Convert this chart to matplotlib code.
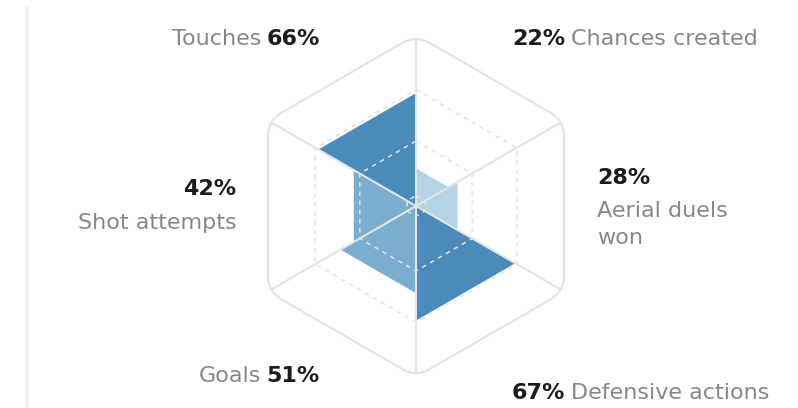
import numpy as np
import matplotlib
matplotlib.use("Agg")
from matplotlib import pyplot as plt
from matplotlib.path import Path
from matplotlib.patches import PathPatch, Polygon

# categories in clockwise order starting from the top-right sector
categories = ["Chances created", "Aerial duels\nwon", "Defensive actions", "Goals", "Shot attempts", "Touches"]
values = [22, 28, 67, 51, 42, 66]
grid_levels = [0.06, 0.38, 0.68]

DARK = "#4a8bba"
MID = "#7badcf"
LIGHT = "#b5d3e7"
GREY_TEXT = "#878787"
BLACK_TEXT = "#1c1c1c"
LINE = "#e3e3e3"

W, H = 798, 408
CX, CY, R = 416, 206, 171
CORNER = 0.09

plt.rcParams['font.family'] = ['DejaVu Sans']


def px(x, y):
    # pixel position -> data units (centre of the hexagon is the origin)
    return (x - CX) / R, (CY - y) / R


def vertex_angles():
    # pointy-top hexagon, going clockwise from the top
    return np.deg2rad(90 - 60 * np.arange(6))


def colour_for(v):
    if v >= 60:
        return DARK
    if v >= 40:
        return MID
    return LIGHT


def rounded_hexagon(radius, corner):
    ang = vertex_angles()
    pts = np.c_[np.cos(ang), np.sin(ang)] * radius
    verts, codes = [], []
    n = len(pts)
    for i in range(n):
        p = pts[i]
        prev = pts[i - 1]
        nxt = pts[(i + 1) % n]
        a = p + (prev - p) / np.linalg.norm(prev - p) * corner
        b = p + (nxt - p) / np.linalg.norm(nxt - p) * corner
        verts.append(a)
        codes.append(Path.MOVETO if i == 0 else Path.LINETO)
        verts += [p, b]
        codes += [Path.CURVE3, Path.CURVE3]
    verts.append(verts[0])
    codes.append(Path.LINETO)
    return Path(verts, codes)


def main():
    fig = plt.figure(figsize=(W / 100, H / 100), dpi=100)
    ax = fig.add_axes([0, 0, 1, 1])
    ax.set_xlim(-CX / R, (W - CX) / R)
    ax.set_ylim(-(H - CY) / R, CY / R)
    ax.axis("off")

    ang = vertex_angles()

    # sectors: each category sits between two neighbouring axes
    for i, v in enumerate(values):
        r = v / 100
        a1, a2 = ang[i], ang[(i + 1) % 6]
        tri = [(0, 0), (r * np.cos(a1), r * np.sin(a1)), (r * np.cos(a2), r * np.sin(a2))]
        ax.add_patch(Polygon(tri, closed=True, facecolor=colour_for(v), edgecolor="none", zorder=1))

    # dashed inner rings
    for lv in grid_levels:
        ring = np.c_[np.cos(ang), np.sin(ang)] * lv
        ring = np.vstack([ring, ring[:1]])
        ax.plot(ring[:, 0], ring[:, 1], color=LINE, lw=1.1, ls=(0, (3, 3)), zorder=2)

    # spokes end where the rounded corner is
    spoke = 1 - CORNER / 4
    for a in ang:
        ax.plot([0, spoke * np.cos(a)], [0, spoke * np.sin(a)], color=LINE, lw=1.5, zorder=3)

    ax.add_patch(PathPatch(rounded_hexagon(1.0, CORNER), facecolor="none",
                           edgecolor=LINE, lw=1.5, zorder=3))

    # left divider
    ax.plot([px(27, 0)[0]] * 2, [px(0, 8)[1], px(0, H)[1]], color="#f2f2f2", lw=3, zorder=0)

    fs = 16

    def pair(first, second, x, y, first_bold, ha):
        # two pieces of text on one baseline, anchored at x
        w1 = "bold" if first_bold else "normal"
        w2 = "normal" if first_bold else "bold"
        c1 = BLACK_TEXT if first_bold else GREY_TEXT
        c2 = GREY_TEXT if first_bold else BLACK_TEXT
        if ha == "left":
            t = ax.text(*px(x, y), first, ha="left", va="baseline", fontsize=fs, fontweight=w1, color=c1)
            ax.annotate(second, xy=(1, 0), xycoords=t, xytext=(4, 0), textcoords="offset points",
                        ha="left", va="bottom", fontsize=fs, fontweight=w2, color=c2)
        else:
            t = ax.text(*px(x, y), second, ha="right", va="baseline", fontsize=fs, fontweight=w2, color=c2)
            ax.annotate(first, xy=(0, 0), xycoords=t, xytext=(-4, 0), textcoords="offset points",
                        ha="right", va="bottom", fontsize=fs, fontweight=w1, color=c1)

    pair(categories[5], f"{values[5]}%", 320, 45, False, "right")
    pair(f"{values[0]}%", categories[0], 512, 45, True, "left")
    pair(categories[3], f"{values[3]}%", 320, 382, False, "right")
    pair(f"{values[2]}%", categories[2], 512, 399, True, "left")

    ax.text(*px(597, 184), f"{values[1]}%", ha="left", va="baseline", fontsize=fs,
            fontweight="bold", color=BLACK_TEXT)
    ax.text(*px(597, 217), categories[1].split("\n")[0], ha="left", va="baseline",
            fontsize=fs, color=GREY_TEXT)
    ax.text(*px(597, 244), categories[1].split("\n")[1], ha="left", va="baseline",
            fontsize=fs, color=GREY_TEXT)

    ax.text(*px(236, 195), f"{values[4]}%", ha="right", va="baseline", fontsize=fs,
            fontweight="bold", color=BLACK_TEXT)
    ax.text(*px(237, 229), categories[4], ha="right", va="baseline", fontsize=fs,
            color=GREY_TEXT)

    fig.savefig("out.png", dpi=100, facecolor="white")


if __name__ == "__main__":
    main()
